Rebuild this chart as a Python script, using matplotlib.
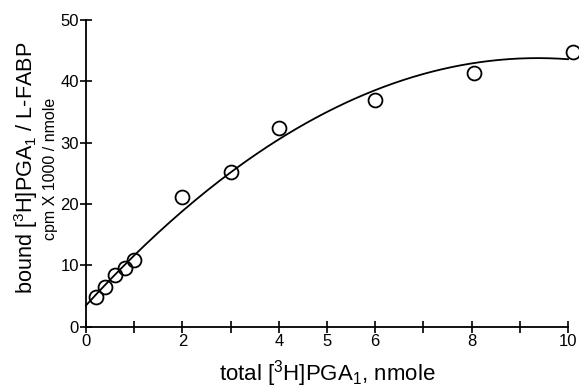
import numpy as np
import matplotlib
matplotlib.use('Agg')
import matplotlib.pyplot as plt

plt.rcParams['font.family'] = ['Liberation Sans', 'DejaVu Sans']
plt.rcParams['mathtext.fontset'] = 'custom'
plt.rcParams['mathtext.rm'] = 'Liberation Sans'
plt.rcParams['mathtext.it'] = 'Liberation Sans'

# measured points: total [3H]PGA1 (nmole) vs bound (cpm x 1000 / nmole)
total_pga = [0.2, 0.4, 0.6, 0.8, 1.0, 2.0, 3.0, 4.0, 6.0, 8.05, 10.1]
bound_pga = [4.9, 6.4, 8.4, 9.5, 10.9, 21.1, 25.2, 32.3, 36.9, 41.3, 44.8]

x_ticks = [0, 1, 2, 3, 4, 5, 6, 7, 8, 9, 10]
x_tick_labels = ['0', '', '2', '', '4', '5', '6', '', '8', '', '10']
y_ticks = [0, 10, 20, 30, 40, 50]

# quadratic fit drawn through the points
coef = np.polyfit(total_pga, bound_pga, 2)
xs = np.linspace(0, 10, 200)
ys = np.polyval(coef, xs)

fig = plt.figure(figsize=(5.79, 3.89), dpi=100)
ax = fig.add_axes([0.1485, 0.160, 0.8325, 0.789])

ax.plot(xs, ys, color='black', linewidth=1.3, clip_on=False)
ax.plot(total_pga, bound_pga, 'o', markersize=10, markerfacecolor='none',
        markeredgecolor='black', markeredgewidth=1.3, clip_on=False)

ax.set_xlim(0, 10)
ax.set_ylim(0, 50)
ax.set_xticks(x_ticks)
ax.set_xticklabels(x_tick_labels)
ax.set_yticks(y_ticks)
ax.tick_params(direction='inout', length=8, width=1.2, labelsize=12, pad=1)

for side in ['top', 'right']:
    ax.spines[side].set_visible(False)
for side in ['left', 'bottom']:
    ax.spines[side].set_linewidth(1.3)

fig.text(0.566, 0.022, 'total [$^{3}$H]PGA$_{1}$, nmole', ha='center', va='baseline', fontsize=16)
fig.text(0.045, 0.569, 'bound [$^{3}$H]PGA$_{1}$ / L-FABP', ha='center', va='center',
         rotation=90, fontsize=15.6)
fig.text(0.088, 0.565, 'cpm X 1000 / nmole', ha='center', va='center',
         rotation=90, fontsize=11.5)

fig.savefig('out.png', dpi=100)
